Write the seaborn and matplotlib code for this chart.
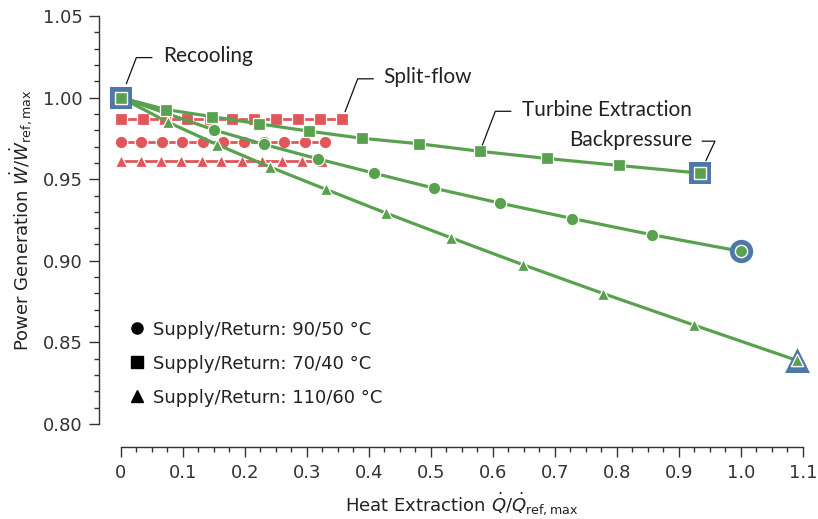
import matplotlib
matplotlib.use("Agg")
import matplotlib.pyplot as plt
import seaborn as sns
import pandas as pd
from matplotlib.lines import Line2D
from matplotlib.ticker import MultipleLocator, FixedLocator, FixedFormatter

# ---------------- data ----------------
# Turbine extraction (green) series
te_sq_x = [0.0, 0.072, 0.146, 0.223, 0.304, 0.388, 0.481, 0.579, 0.687, 0.804, 0.934]
te_sq_y = [1.0, 0.9927, 0.9884, 0.9839, 0.9794, 0.9751, 0.9717, 0.9671, 0.9627, 0.9584, 0.9537]
te_ci_x = [0.0, 0.150, 0.230, 0.317, 0.408, 0.505, 0.612, 0.728, 0.856, 1.0]
te_ci_y = [1.0, 0.9802, 0.9714, 0.9625, 0.9537, 0.9445, 0.9353, 0.9259, 0.9160, 0.9058]
te_tr_x = [0.0, 0.076, 0.155, 0.240, 0.331, 0.427, 0.533, 0.649, 0.778, 0.925, 1.090]
te_tr_y = [1.0, 0.9849, 0.9712, 0.9575, 0.9437, 0.9293, 0.9140, 0.8975, 0.8799, 0.8605, 0.8390]

# Split-flow (red) series
sf_sq_x = [0.0, 0.036, 0.071, 0.107, 0.143, 0.179, 0.214, 0.250, 0.286, 0.321, 0.357]
sf_sq_y = [0.987, 0.987, 0.987, 0.987, 0.987, 0.987, 0.987, 0.987, 0.987, 0.987, 0.987]
sf_ci_x = [0.0, 0.033, 0.066, 0.099, 0.132, 0.165, 0.198, 0.230, 0.263, 0.296, 0.329]
sf_ci_y = [0.973, 0.973, 0.973, 0.973, 0.973, 0.973, 0.973, 0.973, 0.973, 0.973, 0.973]
sf_tr_x = [0.0, 0.032, 0.065, 0.097, 0.130, 0.162, 0.195, 0.227, 0.259, 0.292, 0.324]
sf_tr_y = [0.961, 0.961, 0.961, 0.961, 0.961, 0.961, 0.961, 0.961, 0.961, 0.961, 0.961]

legend_labels = ["Supply/Return: 90/50 °C", "Supply/Return: 70/40 °C", "Supply/Return: 110/60 °C"]
x_ticks = [0.0, 0.1, 0.2, 0.3, 0.4, 0.5, 0.6, 0.7, 0.8, 0.9, 1.0, 1.1]
x_tick_labels = ["0", "0.1", "0.2", "0.3", "0.4", "0.5", "0.6", "0.7", "0.8", "0.9", "1.0", "1.1"]
y_ticks = [0.80, 0.85, 0.90, 0.95, 1.00, 1.05]
y_tick_labels = ["0.80", "0.85", "0.90", "0.95", "1.00", "1.05"]

GREEN = "#59a14f"
RED = "#e15759"
BLUE = "#4e79a7"
DARK = "#333333"

sns.set_theme(style="ticks")
plt.rcParams["font.family"] = ["DejaVu Sans"]
plt.rcParams["mathtext.fontset"] = "dejavusans"
plt.rcParams["axes.edgecolor"] = DARK
plt.rcParams["xtick.color"] = DARK
plt.rcParams["ytick.color"] = DARK
plt.rcParams["text.color"] = "#222222"
plt.rcParams["axes.labelcolor"] = "#222222"

fig = plt.figure(figsize=(8.18, 5.19), dpi=100)
ax = fig.add_axes([0.14792, 0.18304, 0.83374, 0.78613])

MS = 8.6

def draw(x, y, marker, color, z, lw, ms):
    sns.lineplot(x=x, y=y, marker=marker, color=color, sort=False, estimator=None,
                 markersize=ms, markeredgecolor="white", markeredgewidth=0.9,
                 lw=lw, ax=ax, zorder=z, clip_on=False, legend=False)

# split-flow (red)
draw(sf_sq_x, sf_sq_y, "s", RED, 2, 2.0, MS)
draw(sf_ci_x, sf_ci_y, "o", RED, 2, 2.0, MS + 0.4)
draw(sf_tr_x, sf_tr_y, "^", RED, 2, 2.0, MS)
# turbine extraction (green)
draw(te_ci_x, te_ci_y, "o", GREEN, 3, 2.3, MS + 0.4)
draw(te_tr_x, te_tr_y, "^", GREEN, 3, 2.3, MS)
draw(te_sq_x, te_sq_y, "s", GREEN, 3, 2.3, MS)

# highlighted end points
hl = [(te_sq_x[0], te_sq_y[0], "s", 16.0),
      (te_sq_x[-1], te_sq_y[-1], "s", 16.0),
      (te_ci_x[-1], te_ci_y[-1], "o", 16.8),
      (te_tr_x[-1], te_tr_y[-1], "^", 18.0)]
for hx, hy, m, sz in hl:
    sns.scatterplot(x=[hx], y=[hy], marker=m, s=sz ** 2, color=BLUE, linewidth=0,
                    ax=ax, zorder=5, clip_on=False, legend=False)
    sns.scatterplot(x=[hx], y=[hy], marker=m, s=(MS + 0.2) ** 2, color=GREEN,
                    edgecolor="white", linewidth=1.0, ax=ax, zorder=6,
                    clip_on=False, legend=False)

ax.set_xlim(0, 1.1)
ax.set_ylim(0.80, 1.05)
ax.xaxis.set_major_locator(FixedLocator(x_ticks))
ax.xaxis.set_major_formatter(FixedFormatter(x_tick_labels))
ax.yaxis.set_major_locator(FixedLocator(y_ticks))
ax.yaxis.set_major_formatter(FixedFormatter(y_tick_labels))
ax.xaxis.set_minor_locator(MultipleLocator(0.025))
ax.yaxis.set_minor_locator(MultipleLocator(0.01))
ax.tick_params(which="major", length=7, width=1.0, labelsize=13, pad=5, direction="out")
ax.tick_params(which="minor", length=3.5, width=1.0, direction="out")

for s in ["top", "right"]:
    ax.spines[s].set_visible(False)
ax.spines["left"].set_position(("outward", 15.8))
ax.spines["bottom"].set_position(("outward", 16.6))
ax.spines["left"].set_linewidth(1.0)
ax.spines["bottom"].set_linewidth(1.0)

ax.set_xlabel(r"Heat Extraction $\dot{Q}/\dot{Q}_{\mathrm{ref,max}}$", fontsize=13, labelpad=6)
ax.set_ylabel(r"Power Generation $\dot{W}/\dot{W}_{\mathrm{ref,max}}$", fontsize=13, labelpad=6)

# legend
handles = [Line2D([], [], marker=m, color="black", ls="none", markersize=8)
           for m in ["o", "s", "^"]]
ax.legend(handles, legend_labels, loc="upper left", bbox_to_anchor=(0.0132, 0.253),
          frameon=False, fontsize=13, handlelength=0.8, handletextpad=0.5,
          labelspacing=0.88, borderpad=0, borderaxespad=0)

# annotations
ANN_FONT = ["Lato", "DejaVu Sans"]

def leader(text, xy, end, angle, shrink, txt_off, ha):
    ax.annotate("", xy=xy, xycoords="data", xytext=end, textcoords="offset pixels",
                arrowprops=dict(arrowstyle="-", color="#111111", lw=0.9,
                                connectionstyle=f"angle,angleA=0,angleB={angle},rad=0",
                                shrinkA=0, shrinkB=shrink))
    ax.annotate(text, xy=xy, xycoords="data", xytext=txt_off, textcoords="offset pixels",
                ha=ha, va="center", fontsize=15, family=ANN_FONT, color="#222222")

leader("Recooling", (te_sq_x[0], te_sq_y[0]), (31, 40), 69, 10.7, (42, 42), "left")
leader("Split-flow", (sf_sq_x[-1], sf_sq_y[-1]), (31, 40), 69, 5.5, (41, 42), "left")
leader("Turbine Extraction", (te_sq_x[7], te_sq_y[7]), (31, 40), 69, 4.8, (42, 41), "left")
leader("Backpressure", (te_sq_x[-1], te_sq_y[-1]), (2, 32), 65, 9.9, (-8, 33), "right")

fig.savefig("out.png", dpi=100)
